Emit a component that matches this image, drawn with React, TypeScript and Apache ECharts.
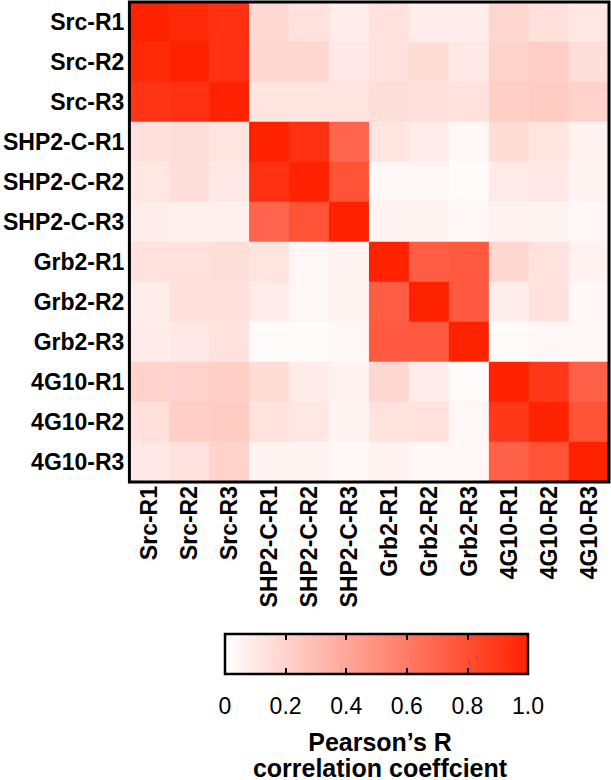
import React, { useEffect, useRef } from "react";
import * as echarts from "echarts";

const labels = [
  "Src-R1", "Src-R2", "Src-R3",
  "SHP2-C-R1", "SHP2-C-R2", "SHP2-C-R3",
  "Grb2-R1", "Grb2-R2", "Grb2-R3",
  "4G10-R1", "4G10-R2", "4G10-R3",
];

// rows top -> bottom, columns left -> right
const corr: number[][] = [
  [1.0, 0.97, 0.93, 0.17, 0.13, 0.08, 0.13, 0.08, 0.08, 0.19, 0.14, 0.11],
  [0.97, 1.0, 0.93, 0.18, 0.18, 0.1, 0.13, 0.16, 0.1, 0.2, 0.22, 0.15],
  [0.92, 0.93, 1.0, 0.12, 0.12, 0.12, 0.15, 0.14, 0.13, 0.22, 0.23, 0.2],
  [0.14, 0.15, 0.12, 1.0, 0.93, 0.7, 0.12, 0.08, 0.03, 0.16, 0.12, 0.06],
  [0.11, 0.15, 0.1, 0.93, 1.0, 0.78, 0.04, 0.04, 0.02, 0.09, 0.1, 0.05],
  [0.08, 0.07, 0.07, 0.7, 0.78, 1.0, 0.05, 0.05, 0.03, 0.06, 0.05, 0.03],
  [0.13, 0.13, 0.15, 0.12, 0.04, 0.05, 1.0, 0.73, 0.75, 0.18, 0.13, 0.06],
  [0.08, 0.14, 0.14, 0.08, 0.04, 0.05, 0.73, 1.0, 0.75, 0.08, 0.13, 0.03],
  [0.09, 0.1, 0.13, 0.02, 0.02, 0.03, 0.75, 0.75, 1.0, 0.02, 0.04, 0.04],
  [0.2, 0.2, 0.22, 0.16, 0.09, 0.06, 0.18, 0.08, 0.02, 1.0, 0.9, 0.72],
  [0.14, 0.22, 0.23, 0.13, 0.11, 0.05, 0.13, 0.13, 0.04, 0.9, 1.0, 0.78],
  [0.1, 0.13, 0.2, 0.05, 0.05, 0.03, 0.06, 0.03, 0.04, 0.72, 0.78, 1.0],
];

const colorbarMin = 0;
const colorbarMax = 1;
const colorbarStep = 0.2;
const colorLow = "#ffffff";
const colorHigh = "#ff2200";
const titleLines = ["Pearson\u2019s R", "correlation coeffcient"];

export default function App() {
  const ref = useRef<HTMLDivElement>(null);

  useEffect(() => {
    document.body.style.margin = "0";
    if (!ref.current) return;
    const chart = echarts.init(ref.current, null, { renderer: "svg" });

    const data: [number, number, number][] = [];
    corr.forEach((row, r) => {
      row.forEach((v, c) => data.push([c, r, v]));
    });

    const font = "'Liberation Sans', Arial, Helvetica, sans-serif";
    const tick = { show: true, inside: true, length: 6, lineStyle: { color: "#000", width: 2 } };

    chart.setOption({
      animation: false,
      backgroundColor: "#ffffff",
      textStyle: { fontFamily: font },
      grid: [
        {
          left: 129, top: 2, width: 480, height: 480,
          show: true, borderColor: "#000", borderWidth: 3,
          backgroundColor: "transparent", z: 3,
        },
        {
          left: 225, top: 634, width: 303, height: 40,
          show: true, borderColor: "#000", borderWidth: 2.5,
          backgroundColor: new echarts.graphic.LinearGradient(0, 0, 1, 0, [
            { offset: 0, color: colorLow },
            { offset: 1, color: colorHigh },
          ]),
        },
      ],
      xAxis: [
        {
          type: "category", gridIndex: 0, data: labels,
          axisLine: { show: false }, axisTick: { show: false },
          splitLine: { show: false },
          axisLabel: {
            rotate: 90, interval: 0, margin: 4,
            fontSize: 23, fontWeight: "bold", color: "#000", fontFamily: font,
          },
        },
        {
          type: "value", gridIndex: 1, min: colorbarMin, max: colorbarMax, interval: colorbarStep,
          position: "bottom",
          axisLine: { show: false }, splitLine: { show: false },
          axisTick: tick,
          axisLabel: {
            margin: 20, fontSize: 23, color: "#000", fontFamily: font,
            formatter: (v: number) => (v === 0 ? "0" : v.toFixed(1)),
          },
        },
        {
          type: "value", gridIndex: 1, min: colorbarMin, max: colorbarMax, interval: colorbarStep,
          position: "top",
          axisLine: { show: false }, splitLine: { show: false },
          axisTick: tick,
          axisLabel: { show: false },
        },
      ],
      yAxis: [
        {
          type: "category", gridIndex: 0, data: labels, inverse: true,
          axisLine: { show: false }, axisTick: { show: false },
          splitLine: { show: false },
          axisLabel: {
            interval: 0, margin: 5,
            fontSize: 23, fontWeight: "bold", color: "#000", fontFamily: font,
          },
        },
        { type: "value", gridIndex: 1, show: false, min: 0, max: 1 },
      ],
      visualMap: {
        show: false, type: "continuous", min: colorbarMin, max: colorbarMax, seriesIndex: 0,
        inRange: { color: [colorLow, colorHigh] },
      },
      series: [
        {
          type: "heatmap", xAxisIndex: 0, yAxisIndex: 0, data,
          itemStyle: { borderWidth: 0 },
          emphasis: { disabled: true },
        },
      ],
      title: titleLines.map((t, i) => ({
        text: t,
        left: 380, top: 729 + i * 26, textAlign: "center",
        padding: 0,
        textStyle: { fontSize: 25, fontWeight: "bold", color: "#000", fontFamily: font },
      })),
    });

    return () => chart.dispose();
  }, []);

  return <div ref={ref} style={{ width: 611, height: 780 }} />;
}
